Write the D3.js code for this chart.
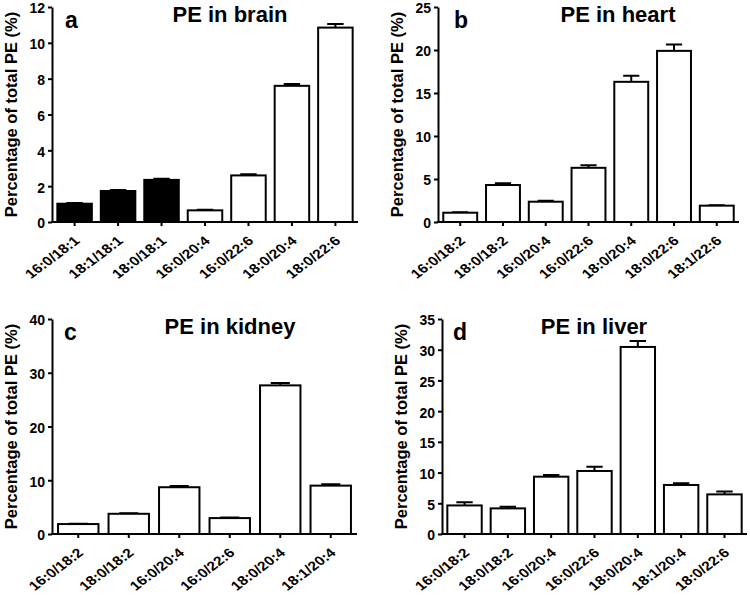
<!DOCTYPE html>
<html>
<head>
<meta charset="utf-8">
<script src="https://cdn.jsdelivr.net/npm/d3@7"></script>
<style>
  body { margin: 0; background: #fff; }
  svg { display: block; font-family: "Liberation Sans", Arial, sans-serif; font-weight: bold; }
</style>
</head>
<body>
<svg id="chart" width="750" height="595"></svg>
<script>
// brain
const brainCats = ["16:0/18:1", "18:1/18:1", "18:0/18:1", "16:0/20:4", "16:0/22:6", "18:0/20:4", "18:0/22:6"];
const brainVals = [1.02, 1.73, 2.35, 0.65, 2.6, 7.6, 10.85];
const brainErr = [0.04, 0.05, 0.06, 0.03, 0.06, 0.1, 0.2];
const brainBlack = ["16:0/18:1", "18:1/18:1", "18:0/18:1"];
const brainTicks = [0, 2, 4, 6, 8, 10, 12];

// heart
const heartCats = ["16:0/18:2", "18:0/18:2", "16:0/20:4", "16:0/22:6", "18:0/20:4", "18:0/22:6", "18:1/22:6"];
const heartVals = [1.08, 4.3, 2.36, 6.3, 16.3, 19.9, 1.9];
const heartErr = [0.05, 0.2, 0.1, 0.3, 0.7, 0.75, 0.05];
const heartTicks = [0, 5, 10, 15, 20, 25];

// kidney
const kidneyCats = ["16:0/18:2", "18:0/18:2", "16:0/20:4", "16:0/22:6", "18:0/20:4", "18:1/20:4"];
const kidneyVals = [1.85, 3.76, 8.7, 2.96, 27.65, 9.0];
const kidneyErr = [0.08, 0.12, 0.25, 0.1, 0.45, 0.25];
const kidneyTicks = [0, 10, 20, 30, 40];

// liver
const liverCats = ["16:0/18:2", "18:0/18:2", "16:0/20:4", "16:0/22:6", "18:0/20:4", "18:1/20:4", "18:0/22:6"];
const liverVals = [4.65, 4.17, 9.33, 10.26, 30.45, 7.98, 6.45];
const liverErr = [0.5, 0.28, 0.27, 0.7, 0.95, 0.27, 0.45];
const liverTicks = [0, 5, 10, 15, 20, 25, 30, 35];

const yLabel = "Percentage of total PE (%)";

const panels = [
    { letter: "a", title: "PE in brain", cats: brainCats, vals: brainVals, err: brainErr, black: brainBlack, ticks: brainTicks,
      x0: 52, x1: 358, top: 7, bottom: 222, titleX: 230, titleY: 22, letterX: 65, letterY: 28 },
    { letter: "b", title: "PE in heart", cats: heartCats, vals: heartVals, err: heartErr, black: [], ticks: heartTicks,
      x0: 438, x1: 739, top: 7, bottom: 222, titleX: 618, titleY: 22, letterX: 454, letterY: 28 },
    { letter: "c", title: "PE in kidney", cats: kidneyCats, vals: kidneyVals, err: kidneyErr, black: [], ticks: kidneyTicks,
      x0: 52, x1: 357, top: 319, bottom: 534, titleX: 230, titleY: 334, letterX: 64, letterY: 340 },
    { letter: "d", title: "PE in liver", cats: liverCats, vals: liverVals, err: liverErr, black: [], ticks: liverTicks,
      x0: 442, x1: 747, top: 319, bottom: 534, titleX: 594, titleY: 334, letterX: 453, letterY: 340 }
];

const svg = d3.select("#chart");

function drawPanel(p) {
    const g = svg.append("g");
    const data = p.cats.map((c, i) => ({ cat: c, val: p.vals[i], err: p.err[i] }));

    const x = d3.scaleBand()
        .domain(p.cats)
        .range([p.x0, p.x1])
        .paddingInner(0.16)
        .paddingOuter(0.1);

    const y = d3.scaleLinear()
        .domain([0, d3.max(p.ticks)])
        .range([p.bottom, p.top]);

    // error bars (upper only)
    const capW = x.bandwidth() * 0.45;
    g.selectAll(".err")
        .data(data)
        .enter()
        .append("path")
        .attr("d", (d) => {
            const cx = x(d.cat) + x.bandwidth() / 2;
            return `M${cx},${y(d.val)}V${y(d.val + d.err)}M${cx - capW / 2},${y(d.val + d.err)}H${cx + capW / 2}`;
        })
        .attr("stroke", "#000")
        .attr("stroke-width", 2)
        .attr("fill", "none");

    // bars
    g.selectAll(".bar")
        .data(data)
        .enter()
        .append("rect")
        .attr("x", (d) => x(d.cat) + 1)
        .attr("width", x.bandwidth() - 2)
        .attr("y", (d) => y(d.val))
        .attr("height", (d) => y(0) - y(d.val))
        .attr("fill", (d) => (p.black.includes(d.cat) ? "#000" : "#fff"))
        .attr("stroke", "#000")
        .attr("stroke-width", 2);

    // y axis
    const yAxis = g.append("g")
        .attr("transform", `translate(${p.x0},0)`)
        .call(d3.axisLeft(y).tickValues(p.ticks).tickSize(4).tickSizeOuter(0).tickPadding(3));
    yAxis.select(".domain").attr("stroke-width", 2);
    yAxis.selectAll(".tick line").attr("stroke-width", 2);
    yAxis.selectAll(".tick text")
        .attr("font-size", 14)
        .attr("dy", "0.42em")
        .attr("font-weight", "bold")
        .attr("fill", "#000")
        .attr("font-family", "Liberation Sans, Arial, sans-serif");

    // x axis
    const xAxis = g.append("g")
        .attr("transform", `translate(0,${p.bottom})`)
        .call(d3.axisBottom(x).tickSize(4).tickSizeOuter(0).tickFormat(""));
    xAxis.select(".domain").attr("stroke-width", 2).attr("d", `M${p.x0 - 1},0H${p.x1}`);
    xAxis.selectAll(".tick line").attr("stroke-width", 2);

    // rotated category labels (slightly stretched like the source figure)
    g.selectAll(".xlab")
        .data(p.cats)
        .enter()
        .append("text")
        .attr("transform", (d) => `translate(${x(d) + x.bandwidth() / 2 + 6},${p.bottom + 20}) scale(1.2,1) rotate(-42)`)
        .attr("text-anchor", "end")
        .attr("font-size", 13)
        .text((d) => d);

    // y axis title
    g.append("text")
        .attr("transform", `translate(${p.x0 - 35},${(p.top + p.bottom) / 2}) rotate(-90)`)
        .attr("text-anchor", "middle")
        .attr("font-size", 16.5)
        .text(yLabel);

    // panel title and letter
    g.append("text")
        .attr("x", p.titleX)
        .attr("y", p.titleY)
        .attr("text-anchor", "middle")
        .attr("font-size", 22)
        .text(p.title);

    g.append("text")
        .attr("x", p.letterX)
        .attr("y", p.letterY)
        .attr("font-size", 23)
        .text(p.letter);
}

panels.forEach(drawPanel);
</script>
</body>
</html>
